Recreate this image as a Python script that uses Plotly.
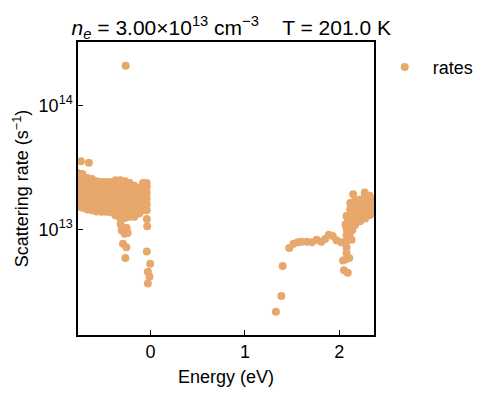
import plotly.graph_objects as go

# ---- data (energy in eV, rate in units of 1e13 s^-1) ----
valence_col_energy = [-0.77, -0.72, -0.67, -0.62, -0.57, -0.52, -0.47, -0.42,
                      -0.37, -0.32, -0.27, -0.22, -0.17, -0.12, -0.08, -0.04]
valence_col_rates = [
    [1.53, 1.73, 1.93, 2.15, 2.4, 2.62, 2.85],
    [1.5, 1.7, 1.93, 2.15, 2.4, 2.6, 2.8],
    [1.45, 1.6, 1.78, 1.98, 2.2, 2.42, 2.6],
    [1.43, 1.58, 1.76, 1.96, 2.18, 2.4, 2.55],
    [1.4, 1.55, 1.73, 1.93, 2.15, 2.32, 2.45],
    [1.39, 1.55, 1.73, 1.93, 2.15, 2.42],
    [1.39, 1.55, 1.73, 1.93, 2.15, 2.42],
    [1.38, 1.55, 1.73, 1.93, 2.15, 2.42],
    [1.3, 1.45, 1.6, 1.78, 1.98, 2.2, 2.5],
    [1.24, 1.385, 1.55, 1.73, 1.93, 2.15, 2.4, 2.5],
    [1.24, 1.385, 1.55, 1.73, 1.93, 2.15, 2.45],
    [1.27, 1.42, 1.58, 1.76, 1.96, 2.15, 2.37],
    [1.27, 1.42, 1.58, 1.76, 1.96, 2.1, 2.25],
    [1.35, 1.5, 1.68, 1.88, 2.15],
    [1.43, 1.6, 1.78, 1.98, 2.2, 2.37],
    [1.43, 1.6, 1.78, 1.98, 2.2, 2.37],
]
valence_extra_energy = [-0.737, -0.653, -0.263,
                        -0.316, -0.253, -0.274, -0.242, -0.305,
                        -0.292, -0.256, -0.266,
                        -0.039, -0.035, -0.039, -0.003, -0.028, -0.011, -0.028]
valence_extra_rate = [3.55, 3.45, 20.8,
                      1.11, 1.03, 0.925, 0.94, 0.99,
                      0.769, 0.723, 0.590,
                      1.218, 1.064, 0.667, 0.532, 0.459, 0.418, 0.368]

conduction_arm_energy = [1.329, 1.386, 1.40, 1.47, 1.516, 1.56, 1.60, 1.656, 1.71,
                         1.76, 1.81, 1.85, 1.89, 1.93, 1.97, 2.02,
                         2.077, 2.077, 2.077, 2.077, 2.077, 2.077, 2.04, 2.05, 2.09, 2.105,
                         2.077, 2.066, 2.105, 2.13, 2.09,
                         2.147, 2.27, 2.32, 2.12, 2.14]
conduction_arm_rate = [0.218, 0.293, 0.509, 0.71, 0.769, 0.79, 0.80, 0.80, 0.79,
                       0.83, 0.80, 0.84, 0.91, 0.89, 0.82, 0.79,
                       1.01, 0.90, 0.81, 0.72, 0.65, 0.58, 0.565, 0.47, 0.45, 0.59,
                       1.29, 1.10, 0.89, 0.83, 1.17,
                       1.93, 1.99, 1.87, 0.96, 1.0]
conduction_col_energy = [2.116, 2.168, 2.221, 2.274, 2.326, 2.379]
conduction_col_rates = [
    [1.05, 1.17, 1.31, 1.46, 1.64],
    [1.09, 1.22, 1.36, 1.52, 1.72],
    [1.17, 1.31, 1.46, 1.63, 1.75],
    [1.23, 1.37, 1.53, 1.7, 1.87],
    [1.31, 1.46, 1.63, 1.79],
    [1.36, 1.52, 1.7],
]

y_tick_values = [1e13, 1e14]
y_tick_labels = ["10<sup>13</sup>", "10<sup>14</sup>"]
x_tick_values = [0, 1, 2]
x_tick_labels = ["0", "1", "2"]

# ---- assemble ----
energy, rate = [], []
for e, rs in zip(valence_col_energy, valence_col_rates):
    for r in rs:
        energy.append(e)
        rate.append(r * 1e13)
for e, r in zip(valence_extra_energy, valence_extra_rate):
    energy.append(e)
    rate.append(r * 1e13)
for e, r in zip(conduction_arm_energy, conduction_arm_rate):
    energy.append(e)
    rate.append(r * 1e13)
for e, rs in zip(conduction_col_energy, conduction_col_rates):
    for r in rs:
        energy.append(e)
        rate.append(r * 1e13)

color = "#e8a76b"
font = "Liberation Sans"

fig = go.Figure()
fig.add_trace(go.Scatter(
    x=energy, y=rate, mode="markers", name="rates",
    marker=dict(color=color, size=8, line=dict(width=0)),
))

# page has an 8px body margin, so the figure is 8px smaller than the window
fig.update_layout(
    width=483, height=388,
    margin=dict(l=70, r=115, t=34, b=59),
    paper_bgcolor="white", plot_bgcolor="white",
    font=dict(family=font, size=18, color="black"),
    title=dict(
        text="<i>n</i><sub><i>e</i></sub> = 3.00×10<sup>13</sup> cm<sup>−3</sup>&nbsp;&nbsp;&nbsp;&nbsp;T = 201.0 K",
        x=0.4623, xanchor="center", y=0.931, yanchor="bottom",
        font=dict(size=21),
    ),
    showlegend=True,
    legend=dict(x=1.009, xanchor="left", y=0.977, yanchor="top",
                font=dict(size=18), bgcolor="rgba(0,0,0,0)", itemwidth=46),
    xaxis=dict(
        range=[-0.768, 2.368], tickvals=x_tick_values, ticktext=x_tick_labels,
        ticks="inside", ticklen=5, tickwidth=1.3, tickcolor="black",
        showline=True, linecolor="black", linewidth=1.5, mirror=True,
        showgrid=False, zeroline=False,
        title=dict(text="Energy (eV)", standoff=9, font=dict(size=18)),
        tickfont=dict(size=18),
    ),
    yaxis=dict(
        type="log", range=[12.152, 14.51],
        tickvals=y_tick_values, ticktext=y_tick_labels,
        ticks="inside", ticklen=5, tickwidth=1.3, tickcolor="black",
        showline=True, linecolor="black", linewidth=1.5, mirror=True,
        showgrid=False, zeroline=False,
        title=dict(text="Scattering rate (s<sup>−1</sup>)", standoff=5, font=dict(size=18)),
        tickfont=dict(size=18),
    ),
)

fig.write_html("out.html")
